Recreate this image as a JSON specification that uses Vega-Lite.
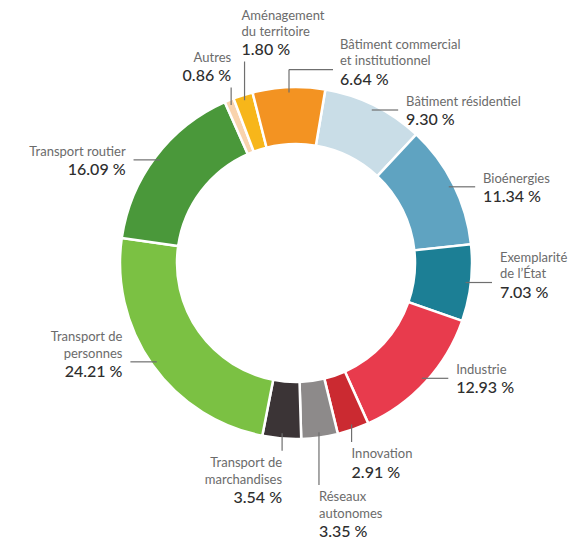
{
  "$schema": "https://vega.github.io/schema/vega-lite/v6.json",
  "width": 582,
  "height": 526,
  "autosize": {"type": "none"},
  "padding": {"left": 5, "top": 0, "right": 0, "bottom": 19},
  "background": "white",
  "config": {"view": {"stroke": null}, "font": "Lato"},
  "data": {
    "values": [
      {"name": "Bâtiment résidentiel", "value": 9.30, "seq": 1},
      {"name": "Bioénergies", "value": 11.34, "seq": 2},
      {"name": "Exemplarité\nde l’État", "value": 7.03, "seq": 3},
      {"name": "Industrie", "value": 12.93, "seq": 4},
      {"name": "Innovation", "value": 2.91, "seq": 5},
      {"name": "Réseaux\nautonomes", "value": 3.35, "seq": 6},
      {"name": "Transport de\nmarchandises", "value": 3.54, "seq": 7},
      {"name": "Transport de\npersonnes", "value": 24.21, "seq": 8},
      {"name": "Transport routier", "value": 16.09, "seq": 9},
      {"name": "Autres", "value": 0.86, "seq": 10},
      {"name": "Aménagement\ndu territoire", "value": 1.80, "seq": 11},
      {"name": "Bâtiment commercial\net institutionnel", "value": 6.64, "seq": 12}
    ]
  },
  "transform": [
    {"joinaggregate": [{"op": "sum", "field": "value", "as": "total"}]},
    {"window": [{"op": "sum", "field": "value", "as": "cum"}], "sort": [{"field": "seq", "order": "ascending"}], "frame": [null, 0]},
    {"calculate": "0.1676 + 2*PI*(datum.cum - datum.value/2)/datum.total", "as": "a"},
    {"calculate": "(datum.a*180/PI) % 360", "as": "deg"},
    {"calculate": "0.97*sin(datum.a)", "as": "ax"},
    {"calculate": "0.97*cos(datum.a)", "as": "ay"},
    {"calculate": "(datum.deg < 20 || datum.deg > 330) ? 'top' : (datum.deg > 155 && datum.deg < 205) ? 'bottom' : 'side'", "as": "grp"},
    {"window": [{"op": "rank", "as": "rk"}], "groupby": ["grp"], "sort": [{"field": "ax", "order": "ascending"}]},
    {"calculate": "datum.ax >= 0 ? 1 : -1", "as": "sg"},
    {"calculate": "datum.grp == 'top' && datum.rk == 3", "as": "elb"},
    {"calculate": "datum.ax + (datum.grp == 'side' ? datum.sg*0.15 : 0)", "as": "x1"},
    {"calculate": "datum.grp == 'side' ? datum.ay : datum.grp == 'top' ? datum.ay + (datum.rk == 2 ? 0.22 : datum.rk == 3 ? 0.13 : 0.1) : datum.ay - (datum.rk == 2 ? 0.3 : 0.1)", "as": "y1"},
    {"calculate": "datum.elb ? datum.x1 + 0.25 : datum.x1", "as": "x2"},
    {"calculate": "datum.grp == 'side' ? datum.x1 + datum.sg*0.045 : datum.elb ? datum.x2 + 0.04 : (datum.grp == 'top' && datum.rk == 2) ? datum.x1 - 0.017 : datum.x1", "as": "tx"},
    {"calculate": "datum.grp == 'side' ? (datum.sg > 0 ? 'left' : 'right') : (datum.rk == 1 ? 'right' : 'left')", "as": "al"},
    {"calculate": "length(split(datum.name, '\\n'))", "as": "nl"},
    {"calculate": "(datum.grp == 'side' || datum.elb) ? datum.y1 : datum.grp == 'top' ? datum.y1 + 0.12 : datum.y1 - (4 + datum.nl*16.5)/176", "as": "ys"},
    {"calculate": "datum.ys + 0.006 + (datum.nl - 1)*16.5/176", "as": "ny"},
    {"calculate": "datum.ys - 0.012", "as": "py"},
    {"calculate": "format(datum.value, '.2f') + ' %'", "as": "pct"}
  ],
  "layer": [
    {
      "mark": {"type": "arc", "outerRadius": 176, "innerRadius": 119, "stroke": "white", "strokeWidth": 2.5},
      "encoding": {
        "theta": {"field": "value", "type": "quantitative", "stack": true, "scale": {"range": [0.1676, 6.4508]}},
        "order": {"field": "seq", "type": "quantitative"},
        "color": {
          "field": "name", "type": "nominal", "legend": null,
          "scale": {
            "domain": ["Bâtiment résidentiel", "Bioénergies", "Exemplarité\nde l’État", "Industrie", "Innovation", "Réseaux\nautonomes", "Transport de\nmarchandises", "Transport de\npersonnes", "Transport routier", "Autres", "Aménagement\ndu territoire", "Bâtiment commercial\net institutionnel"],
            "range": ["#c9dde7", "#5fa3c1", "#1c7f95", "#e83b4d", "#cb2a31", "#8d8a8a", "#3b3436", "#7bc143", "#4a983a", "#f9d3ad", "#f7b61a", "#f39322"]
          }
        }
      }
    },
    {
      "mark": {"type": "rule", "color": "#6f6f6f", "strokeWidth": 1.2},
      "encoding": {
        "x": {"field": "ax", "type": "quantitative", "axis": null, "scale": {"domain": [-1.6534, 1.6534], "nice": false, "zero": false}},
        "y": {"field": "ay", "type": "quantitative", "axis": null, "scale": {"domain": [-1.4943, 1.4943], "nice": false, "zero": false}},
        "x2": {"field": "x1"},
        "y2": {"field": "y1"}
      }
    },
    {
      "transform": [{"filter": "datum.elb"}],
      "mark": {"type": "rule", "color": "#6f6f6f", "strokeWidth": 1.2},
      "encoding": {
        "x": {"field": "x1", "type": "quantitative", "axis": null, "scale": {"domain": [-1.6534, 1.6534], "nice": false, "zero": false}},
        "y": {"field": "y1", "type": "quantitative", "axis": null, "scale": {"domain": [-1.4943, 1.4943], "nice": false, "zero": false}},
        "x2": {"field": "x2"}
      }
    },
    {
      "transform": [{"filter": "datum.al == 'left'"}],
      "mark": {"type": "text", "align": "left", "baseline": "bottom", "fontSize": 13, "lineHeight": 16.5, "lineBreak": "\n", "color": "#6b6b6b"},
      "encoding": {
        "x": {"field": "tx", "type": "quantitative", "axis": null, "scale": {"domain": [-1.6534, 1.6534], "nice": false, "zero": false}},
        "y": {"field": "ny", "type": "quantitative", "axis": null, "scale": {"domain": [-1.4943, 1.4943], "nice": false, "zero": false}},
        "text": {"field": "name"}
      }
    },
    {
      "transform": [{"filter": "datum.al == 'right'"}],
      "mark": {"type": "text", "align": "right", "baseline": "bottom", "fontSize": 13, "lineHeight": 16.5, "lineBreak": "\n", "color": "#6b6b6b"},
      "encoding": {
        "x": {"field": "tx", "type": "quantitative", "axis": null, "scale": {"domain": [-1.6534, 1.6534], "nice": false, "zero": false}},
        "y": {"field": "ny", "type": "quantitative", "axis": null, "scale": {"domain": [-1.4943, 1.4943], "nice": false, "zero": false}},
        "text": {"field": "name"}
      }
    },
    {
      "transform": [{"filter": "datum.al == 'left'"}],
      "mark": {"type": "text", "align": "left", "baseline": "top", "fontSize": 16, "fontWeight": 500, "color": "#2e2e2e"},
      "encoding": {
        "x": {"field": "tx", "type": "quantitative", "axis": null, "scale": {"domain": [-1.6534, 1.6534], "nice": false, "zero": false}},
        "y": {"field": "py", "type": "quantitative", "axis": null, "scale": {"domain": [-1.4943, 1.4943], "nice": false, "zero": false}},
        "text": {"field": "pct"}
      }
    },
    {
      "transform": [{"filter": "datum.al == 'right'"}],
      "mark": {"type": "text", "align": "right", "baseline": "top", "fontSize": 16, "fontWeight": 500, "color": "#2e2e2e"},
      "encoding": {
        "x": {"field": "tx", "type": "quantitative", "axis": null, "scale": {"domain": [-1.6534, 1.6534], "nice": false, "zero": false}},
        "y": {"field": "py", "type": "quantitative", "axis": null, "scale": {"domain": [-1.4943, 1.4943], "nice": false, "zero": false}},
        "text": {"field": "pct"}
      }
    }
  ]
}
